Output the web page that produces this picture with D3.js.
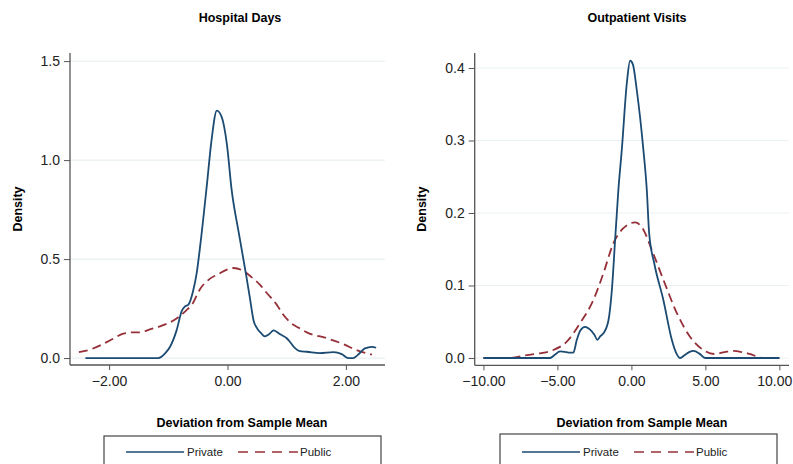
<!DOCTYPE html>
<html>
<head>
<meta charset="utf-8">
<script src="https://cdn.jsdelivr.net/npm/d3@7"></script>
<style>
  body { margin: 0; background: #fff; }
  svg { display: block; font-family: "Liberation Sans", Arial, sans-serif; }
</style>
</head>
<body>
<div id="chart"></div>
<script>
// Hospital Days: kernel density of deviation from sample mean
const hospPrivX = [-2.4, -1.9, -1.5, -1.17, -1.05, -0.97, -0.86, -0.77, -0.72, -0.66, -0.58, -0.52, -0.46, -0.35, -0.27, -0.18, -0.10, -0.01, 0.07, 0.18, 0.21, 0.32, 0.38, 0.44, 0.50, 0.57, 0.63, 0.70, 0.78, 0.89, 1.0, 1.06, 1.14, 1.22, 1.34, 1.56, 1.79, 1.93, 2.04, 2.12, 2.24, 2.32, 2.44, 2.51];
const hospPrivY = [0, 0, 0, 0, 0.025, 0.057, 0.14, 0.24, 0.26, 0.27, 0.34, 0.43, 0.57, 0.87, 1.10, 1.25, 1.22, 1.08, 0.85, 0.65, 0.60, 0.41, 0.30, 0.19, 0.15, 0.125, 0.11, 0.12, 0.14, 0.12, 0.10, 0.08, 0.05, 0.035, 0.032, 0.025, 0.03, 0.02, 0, 0, 0.027, 0.049, 0.057, 0.052];
const hospPubX = [-2.51, -2.3, -2.15, -1.98, -1.76, -1.6, -1.48, -1.31, -1.14, -0.86, -0.70, -0.60, -0.46, -0.30, -0.18, 0.10, 0.27, 0.40, 0.55, 0.66, 0.83, 0.94, 1.06, 1.22, 1.34, 1.68, 1.96, 2.18, 2.44];
const hospPubY = [0.03, 0.045, 0.064, 0.09, 0.123, 0.13, 0.13, 0.145, 0.16, 0.20, 0.24, 0.27, 0.35, 0.40, 0.42, 0.455, 0.44, 0.41, 0.37, 0.33, 0.27, 0.22, 0.18, 0.15, 0.13, 0.10, 0.07, 0.04, 0.017];

// Outpatient Visits
const outPrivX = [-10, -8, -6, -5.49, -5.2, -4.82, -4.5, -4.26, -3.92, -3.69, -3.45, -3.13, -2.79, -2.5, -2.30, -2.1, -1.89, -1.55, -1.32, -1.10, -0.88, -0.65, -0.31, -0.09, 0.1, 0.36, 0.81, 1.04, 1.2, 1.55, 2.16, 2.73, 3.0, 3.29, 3.6, 3.9, 4.19, 4.6, 4.98, 6, 8, 10];
const outPrivY = [0, 0, 0, 0, 0.004, 0.009, 0.0085, 0.0075, 0.0075, 0.025, 0.038, 0.043, 0.039, 0.032, 0.025, 0.03, 0.034, 0.052, 0.094, 0.163, 0.232, 0.287, 0.379, 0.41, 0.405, 0.37, 0.287, 0.232, 0.172, 0.13, 0.08, 0.025, 0.008, 0, 0.004, 0.008, 0.0097, 0.006, 0, 0, 0, 0];
const outPubX = [-10, -8.2, -7.07, -6.17, -5.27, -4.37, -3.47, -2.57, -1.89, -1.22, -0.54, 0.25, 0.81, 1.38, 2.16, 3.07, 3.97, 4.86, 5.6, 6.3, 6.9, 7.5, 8.0, 8.9, 10];
const outPubY = [0, 0, 0.004, 0.0065, 0.011, 0.0225, 0.048, 0.08, 0.117, 0.158, 0.179, 0.187, 0.177, 0.149, 0.108, 0.062, 0.029, 0.011, 0.0055, 0.008, 0.0097, 0.008, 0.0055, 0, 0];

const hospXTicks = [-2, 0, 2];
const hospYTicks = [0, 0.5, 1.0, 1.5];
const outXTicks = [-10, -5, 0, 5, 10];
const outYTicks = [0, 0.1, 0.2, 0.3, 0.4];

const seriesNames = ["Private", "Public"];
const blue = "#1b4a73";
const red = "#963038";

const svg = d3.select("#chart").append("svg")
  .attr("width", 793)
  .attr("height", 464);

function zip(xs, ys) { return xs.map((x, i) => ({ x: x, y: ys[i] })); }

function drawPanel(opt) {
  const x = d3.scaleLinear().domain(opt.xDomain).range([opt.left, opt.right]);
  const y = d3.scaleLinear().domain(opt.yDomain).range([opt.bottom, opt.top]);
  const g = svg.append("g");

  // gridlines
  g.selectAll(".grid").data(opt.yTicks).enter().append("line")
    .attr("x1", opt.left).attr("x2", opt.right)
    .attr("y1", d => y(d)).attr("y2", d => y(d))
    .attr("stroke", "#e9f1f3").attr("stroke-width", 1.2);

  // y axis
  const yAxis = g.append("g")
    .attr("transform", `translate(${opt.left},0)`)
    .call(d3.axisLeft(y).tickValues(opt.yTicks).tickFormat(d3.format(".1f")).tickSize(6).tickPadding(4));
  // x axis
  const xAxis = g.append("g")
    .attr("transform", `translate(0,${opt.bottom})`)
    .call(d3.axisBottom(x).tickValues(opt.xTicks).tickFormat(d3.format(".2f")).tickSize(5).tickPadding(6));

  [yAxis, xAxis].forEach(a => {
    a.select(".domain").attr("stroke", "#555").attr("stroke-width", 1.3);
    a.selectAll(".tick line").attr("stroke", "#555").attr("stroke-width", 1);
    a.selectAll(".tick text").attr("fill", "#222").style("font-size", "14px");
  });
  // remove outer tick nubs from domain paths
  yAxis.select(".domain").attr("d", `M0,${opt.top}V${opt.bottom}`);
  xAxis.select(".domain").attr("d", `M${opt.left},0H${opt.right}`);

  // keep the last x label inside the page edge
  xAxis.selectAll(".tick text").each(function() {
    const node = this;
    const box = node.getBBox();
    const tx = x(d3.select(node.parentNode).datum());
    const overflow = tx + box.x + box.width - 792;
    if (overflow > 0) d3.select(node).attr("x", -overflow);
  });

  const line = d3.line().x(d => x(d.x)).y(d => y(d.y)).curve(d3.curveMonotoneX);

  g.append("path").datum(zip(opt.pubX, opt.pubY))
    .attr("d", line).attr("fill", "none")
    .attr("stroke", red).attr("stroke-width", 1.8).attr("stroke-dasharray", "9,5");
  g.append("path").datum(zip(opt.privX, opt.privY))
    .attr("d", line).attr("fill", "none")
    .attr("stroke", blue).attr("stroke-width", 1.8);

  // title
  svg.append("text")
    .attr("x", opt.titleX).attr("y", 22)
    .attr("text-anchor", "middle")
    .style("font-size", "12.5px").style("font-weight", "bold")
    .text(opt.title);

  // y label
  svg.append("text")
    .attr("transform", `translate(${opt.yLabelX},${(opt.top + opt.bottom) / 2}) rotate(-90)`)
    .attr("text-anchor", "middle")
    .style("font-size", "12.5px").style("font-weight", "bold")
    .text("Density");

  // x label
  svg.append("text")
    .attr("x", opt.xLabelX).attr("y", 427)
    .attr("text-anchor", "middle")
    .style("font-size", "12.5px").style("font-weight", "bold")
    .text("Deviation from Sample Mean");

  // legend
  const lg = svg.append("g").attr("transform", `translate(${opt.legX},${opt.legY})`);
  lg.append("rect")
    .attr("x", 0).attr("y", 0).attr("width", opt.legW).attr("height", 40)
    .attr("fill", "#fff").attr("stroke", "#444").attr("stroke-width", 1.2);
  const ly = 452 - opt.legY;
  lg.append("line").attr("x1", 22).attr("x2", 80).attr("y1", ly).attr("y2", ly)
    .attr("stroke", blue).attr("stroke-width", 1.4);
  lg.append("text").attr("x", 83).attr("y", ly + 4)
    .style("font-size", "11.5px").attr("fill", "#222").text(seriesNames[0]);
  lg.append("line").attr("x1", 134).attr("x2", 194).attr("y1", ly).attr("y2", ly)
    .attr("stroke", red).attr("stroke-width", 1.4).attr("stroke-dasharray", "10,7");
  lg.append("text").attr("x", 196).attr("y", ly + 4)
    .style("font-size", "11.5px").attr("fill", "#222").text(seriesNames[1]);
}

drawPanel({
  title: "Hospital Days", titleX: 240, yLabelX: 22, xLabelX: 242,
  left: 70, right: 385, top: 53, bottom: 365,
  xDomain: [-2.66, 2.66], yDomain: [-0.035, 1.541],
  xTicks: hospXTicks, yTicks: hospYTicks,
  privX: hospPrivX, privY: hospPrivY, pubX: hospPubX, pubY: hospPubY,
  legX: 104, legY: 436, legW: 277
});

drawPanel({
  title: "Outpatient Visits", titleX: 637, yLabelX: 426, xLabelX: 642,
  left: 474.7, right: 789, top: 53, bottom: 365.3,
  xDomain: [-10.59, 10.65], yDomain: [-0.0101, 0.4207],
  xTicks: outXTicks, yTicks: outYTicks,
  privX: outPrivX, privY: outPrivY, pubX: outPubX, pubY: outPubY,
  legX: 500, legY: 434, legW: 277
});
</script>
</body>
</html>
